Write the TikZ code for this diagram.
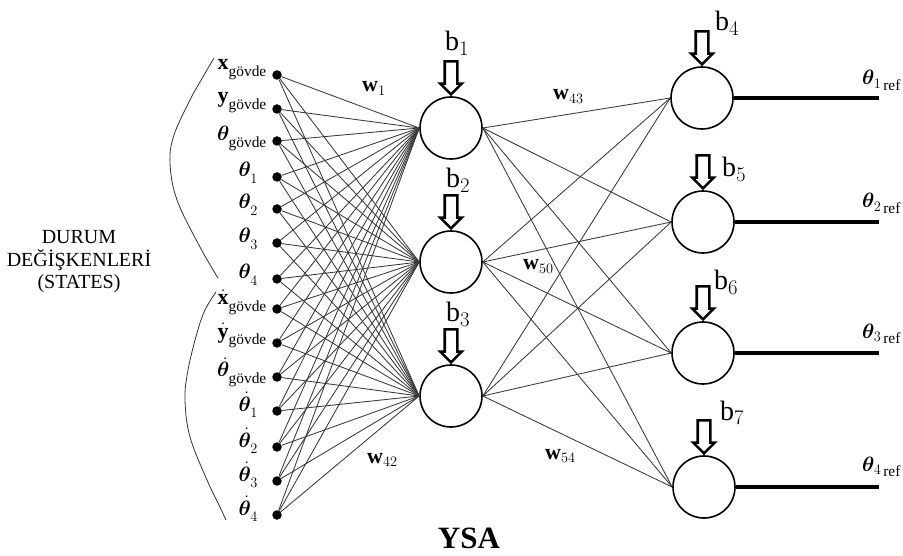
\documentclass[tikz,border=0pt]{standalone}
\usepackage{amsmath,bm}
\usepackage{fontspec}
\setmainfont{Liberation Serif}
\usetikzlibrary{shapes.arrows}
\newcommand{\lsub}[1]{_{\raisebox{-3pt}{$\scriptstyle #1$}}}
\begin{document}
\begin{tikzpicture}[x=1pt,y=-1pt,
  dot/.style={circle,fill=black,inner sep=0pt,minimum size=9.5pt},
  neuron/.style={circle,draw,line width=1.6pt,minimum size=62pt,inner sep=0pt},
  conn/.style={line width=0.85pt,draw=black!78},
  outline/.style={line width=3.8pt,draw=black},
  biasarrow/.style={single arrow,draw,line width=2.6pt,shape border rotate=270,
     minimum height=33pt,single arrow head extend=4.5pt,inner sep=5pt,anchor=tip},
  inlabel/.style={font=\fontsize{22}{26}\selectfont,anchor=base east,inner sep=0pt},
  blabel/.style={font=\fontsize{28}{32}\selectfont,anchor=base west,inner sep=0pt},
  wlabel/.style={font=\fontsize{22}{26}\selectfont,anchor=base west,inner sep=0pt},
  outlabel/.style={font=\fontsize{22}{26}\selectfont,anchor=base west,inner sep=0pt},
  bracecurve/.style={line width=0.8pt,draw=black!80}
]
\useasboundingbox (0,0) rectangle (903,556);

% input dots
\foreach \i/\yy in {1/75,2/109,3/141,4/177,5/209,6/243,7/279,8/309,9/343,10/377,11/411,12/447,13/481,14/515}
  \node[dot] (in\i) at (277,\yy) {};

% hidden neurons
\node[neuron] (h1) at (451,128) {};
\node[neuron] (h2) at (451,262) {};
\node[neuron] (h3) at (451,396) {};

% output neurons
\node[neuron] (o1) at (702,98) {};
\node[neuron] (o2) at (703,222) {};
\node[neuron] (o3) at (703,353) {};
\node[neuron] (o4) at (704,487) {};

% connections
\foreach \i in {1,...,14}
  \foreach \j in {1,2,3}
    \draw[conn] (in\i) -- (h\j.west);
\foreach \j in {1,2,3}
  \foreach \k in {1,2,3,4}
    \draw[conn] (h\j.east) -- (o\k.west);

% output lines
\coordinate (e1) at (879,98);
\coordinate (e2) at (879,222);
\coordinate (e3) at (879,353);
\coordinate (e4) at (879,487);
\foreach \k in {1,2,3,4}
  \draw[outline] (o\k.east) -- (e\k);

\node[outlabel] (t1) at (862,85) {$\bm{\theta}_{1\,\raisebox{-2pt}{$\scriptstyle\text{ref}$}}$};
\node[outlabel] (t2) at (862,208) {$\bm{\theta}_{2\,\raisebox{-2pt}{$\scriptstyle\text{ref}$}}$};
\node[outlabel] (t3) at (862,338) {$\bm{\theta}_{3\,\raisebox{-2pt}{$\scriptstyle\text{ref}$}}$};
\node[outlabel] (t4) at (862,471) {$\bm{\theta}_{4\,\raisebox{-2pt}{$\scriptstyle\text{ref}$}}$};

% bias arrows
\node[biasarrow] (a1) at (h1.north) {};
\node[biasarrow] (a2) at (h2.north) {};
\node[biasarrow] (a3) at (h3.north) {};
\node[biasarrow] (a4) at (o1.north) {};
\node[biasarrow] (a5) at (o2.north) {};
\node[biasarrow] (a6) at (o3.north) {};
\node[biasarrow] (a7) at (o4.north) {};

\node[blabel] (b1) at (445,51) {$\text{b}_{1}$};
\node[blabel] (b2) at (446,188) {$\text{b}_{2}$};
\node[blabel] (b3) at (446,322) {$\text{b}_{3}$};
\node[blabel] (b4) at (715,31) {$\text{b}_{4}$};
\node[blabel] (b5) at (722,177) {$\text{b}_{5}$};
\node[blabel] (b6) at (714,290) {$\text{b}_{6}$};
\node[blabel] (b7) at (720,420) {$\text{b}_{7}$};

% weight labels
\node[wlabel] (w1) at (362,92) {$\textbf{w}_{1}$};
\node[wlabel] (w43) at (553,100) {$\textbf{w}_{43}$};
\node[wlabel] (w50) at (523,270) {$\textbf{w}_{50}$};
\node[wlabel] (w42) at (367,463) {$\textbf{w}_{42}$};
\node[wlabel] (w54) at (545,459) {$\textbf{w}_{54}$};

% input labels
\node[inlabel] (l1) at (267,70) {$\mathbf{x}\lsub{\text{gövde}}$};
\node[inlabel] (l2) at (267,103) {$\mathbf{y}\lsub{\text{gövde}}$};
\node[inlabel] (l3) at (267,141) {$\bm{\theta}\lsub{\text{gövde}}$};
\node[inlabel] (l4) at (258,177) {$\bm{\theta}\lsub{1}$};
\node[inlabel] (l5) at (258,209) {$\bm{\theta}\lsub{2}$};
\node[inlabel] (l6) at (258,243) {$\bm{\theta}\lsub{3}$};
\node[inlabel] (l7) at (258,279) {$\bm{\theta}\lsub{4}$};
\node[inlabel] (l8) at (267,305) {$\dot{\mathbf{x}}\lsub{\text{gövde}}$};
\node[inlabel] (l9) at (267,338) {$\dot{\mathbf{y}}\lsub{\text{gövde}}$};
\node[inlabel] (l10) at (267,377) {$\dot{\bm{\theta}}\lsub{\text{gövde}}$};
\node[inlabel] (l11) at (258,411) {$\dot{\bm{\theta}}\lsub{1}$};
\node[inlabel] (l12) at (258,447) {$\dot{\bm{\theta}}\lsub{2}$};
\node[inlabel] (l13) at (258,481) {$\dot{\bm{\theta}}\lsub{3}$};
\node[inlabel] (l14) at (258,515) {$\dot{\bm{\theta}}\lsub{4}$};

% brace curves
\draw[bracecurve] plot[smooth,tension=0.6] coordinates {(214,58) (200,82) (190,100) (174,135) (170,163) (177,200) (200,247) (218,278)};
\draw[bracecurve] plot[smooth,tension=0.6] coordinates {(216,292) (205,310) (197,333) (188,370) (185,400) (190,437) (207,480) (219,505) (226,520)};

\node[font=\fontsize{20}{22.5}\selectfont,align=center,inner sep=0pt] (states) at (79,262) {DURUM\\DEĞİŞKENLERİ\\(STATES)};

\node[font=\bfseries\fontsize{31}{34}\selectfont,inner sep=0pt] (ysa) at (469,538) {YSA};
\end{tikzpicture}
\end{document}
